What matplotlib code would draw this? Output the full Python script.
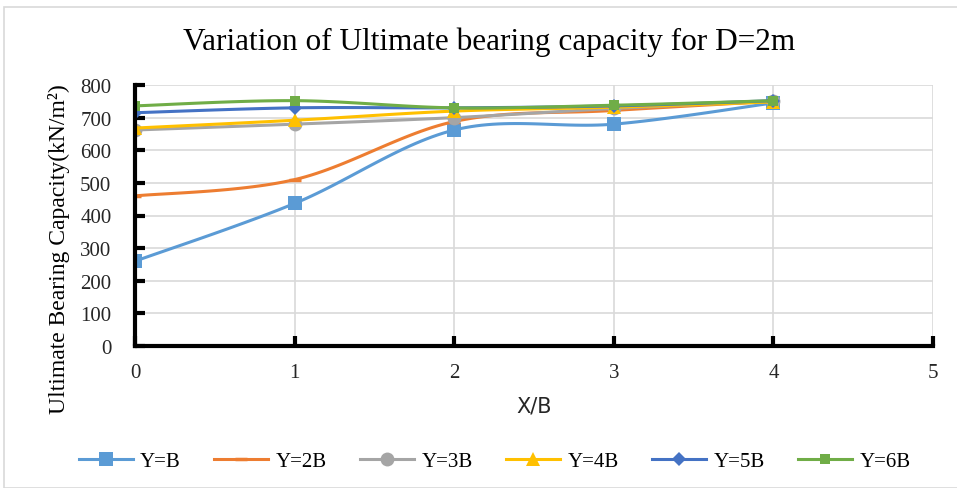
import numpy as np
import matplotlib.pyplot as plt
from matplotlib.patches import Rectangle

# ultimate bearing capacity (kN/m2) vs X/B for D=2m
x_b = [0, 1, 2, 3, 4]
series_names = ['Y=B', 'Y=2B', 'Y=3B', 'Y=4B', 'Y=5B', 'Y=6B']
q_yb = [260, 437, 662, 680, 745]
q_y2b = [460, 510, 688, 722, 750]
q_y3b = [662, 680, 700, 728, 750]
q_y4b = [668, 692, 720, 732, 748]
q_y5b = [715, 730, 730, 736, 752]
q_y6b = [736, 752, 730, 738, 752]

colors = ['#5B9BD5', '#ED7D31', '#A5A5A5', '#FFC000', '#4472C4', '#70AD47']
markers = ['s', '_', 'o', '^', 'D', 's']
msizes = [10, 9, 10, 10, 7, 7]


def smooth(xs, ys, n=30):
    # Catmull-Rom style bezier, like spreadsheet "smoothed line"
    xs = np.asarray(xs, float)
    ys = np.asarray(ys, float)
    px = np.concatenate([[xs[0]], xs, [xs[-1]]])
    py = np.concatenate([[ys[0]], ys, [ys[-1]]])
    out_x, out_y = [], []
    t = np.linspace(0, 1, n)
    for i in range(1, len(px) - 2):
        p0, p1, p2, p3 = [np.array([px[j], py[j]]) for j in range(i - 1, i + 3)]
        c1 = p1 + (p2 - p0) / 6
        c2 = p2 - (p3 - p1) / 6
        b = ((1 - t) ** 3)[:, None] * p1 + (3 * (1 - t) ** 2 * t)[:, None] * c1 \
            + (3 * (1 - t) * t ** 2)[:, None] * c2 + (t ** 3)[:, None] * p2
        out_x.extend(b[:, 0])
        out_y.extend(b[:, 1])
    return out_x, out_y


fig = plt.figure(figsize=(9.57, 4.89), dpi=100)
fig.patches.append(Rectangle((4 / 957, 0), 1, 1 - 8 / 489, transform=fig.transFigure,
                             fill=False, edgecolor='#D9D9D9', linewidth=1.2))
ax = fig.add_axes([135 / 957, 1 - 347 / 489, (933 - 135) / 957, (347 - 86) / 489])

all_q = [q_yb, q_y2b, q_y3b, q_y4b, q_y5b, q_y6b]
for name, q, c, m, ms in zip(series_names, all_q, colors, markers, msizes):
    sx, sy = smooth(x_b, q)
    ax.plot(sx, sy, color=c, linewidth=2.2)
    mew = 2.5 if m == '_' else 0
    ax.plot(x_b, q, linestyle='none', marker=m, color=c, markersize=ms, markeredgewidth=mew)
    ax.plot([], [], color=c, linewidth=2.2, marker=m, markersize=ms, markeredgewidth=mew, label=name)

ax.set_xlim(0, 5)
ax.set_ylim(0, 800)
ax.set_xticks(range(0, 6))
ax.set_yticks(range(0, 801, 100))
ax.grid(True, color='#D9D9D9', linewidth=1.2)
ax.set_axisbelow(True)
for s in ['top', 'right']:
    ax.spines[s].set_visible(False)
for s in ['left', 'bottom']:
    ax.spines[s].set_linewidth(3)
ax.tick_params(direction='in', length=7, width=3, labelsize=15, colors='black')
ax.tick_params(axis='y', pad=17)
ax.tick_params(axis='x', pad=12)
for lab in ax.get_xticklabels() + ax.get_yticklabels():
    lab.set_fontfamily('Liberation Serif')
    lab.set_color('#262626')

ax.set_xlabel('X/B', fontsize=15, fontfamily='DejaVu Sans', color='#262626')
ax.xaxis.set_label_coords(0.5, -0.19)
ax.set_ylabel('Ultimate Bearing Capacity(kN/m²)', fontsize=17, fontfamily='Liberation Serif')
ax.yaxis.set_label_coords(-0.082, 0.375)
fig.text(0.511, 1 - 42 / 489, 'Variation of Ultimate bearing capacity for D=2m',
         ha='center', va='center', fontsize=22.5, fontfamily='Liberation Serif')

fig.legend(loc='center', bbox_to_anchor=(0.517, 1 - 462 / 489), ncol=6, frameon=False,
           prop={'family': 'Liberation Serif', 'size': 15}, handlelength=2.6,
           columnspacing=1.6, handletextpad=0.35)

fig.savefig('out.png', dpi=100)
